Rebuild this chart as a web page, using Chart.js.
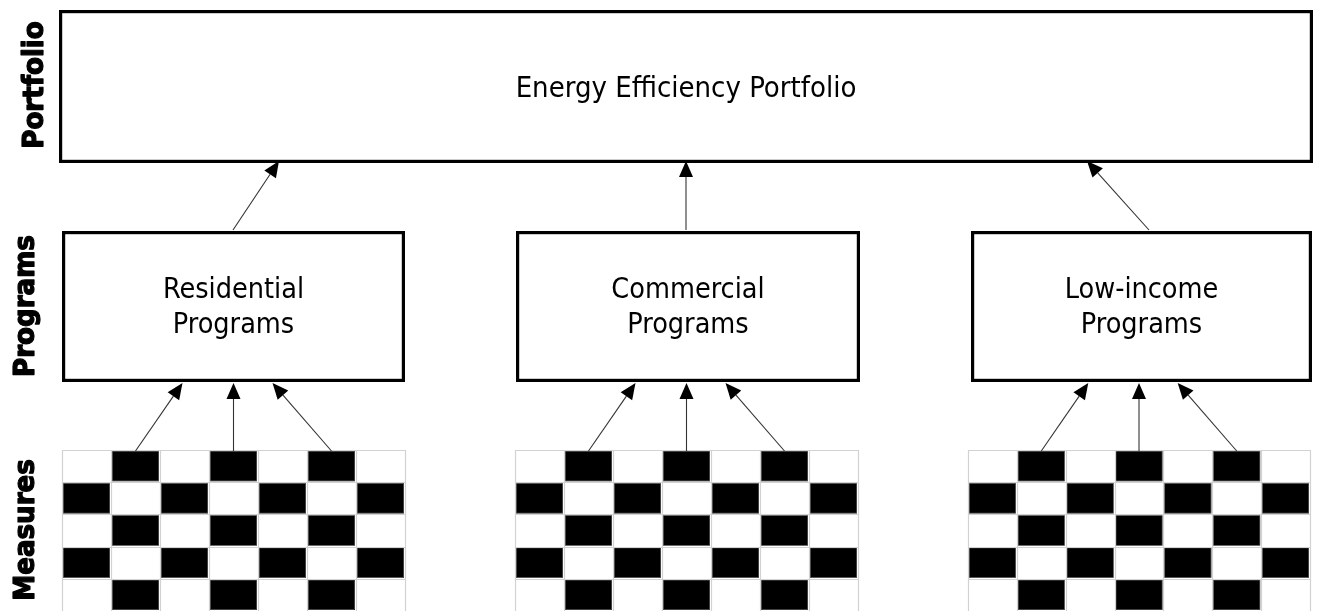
<!DOCTYPE html>
<html>
<head>
<meta charset="utf-8">
<script src="https://cdn.jsdelivr.net/npm/chart.js@4.4.1/dist/chart.umd.min.js"></script>
<style>
  html, body { margin: 0; padding: 0; background: #ffffff; }
  #wrap { width: 1319px; height: 611px; }
</style>
</head>
<body>
<div id="wrap"><canvas id="c" width="1319" height="611"></canvas></div>
<script>
// ---------------- DATA ----------------
const tierLabels = ['Portfolio', 'Programs', 'Measures'];
const portfolioLabel = 'Energy Efficiency Portfolio';
const programLines = [
  ['Residential', 'Programs'],
  ['Commercial', 'Programs'],
  ['Low-income', 'Programs']
];
// measure cells per program: 1 = filled (black) cell, 0 = empty cell
const measureCells = [
  [0, 1, 0, 1, 0, 1, 0],
  [1, 0, 1, 0, 1, 0, 1],
  [0, 1, 0, 1, 0, 1, 0],
  [1, 0, 1, 0, 1, 0, 1],
  [0, 1, 0, 1, 0, 1, 0]
];
// columns of the top measure row that feed each program (arrow sources)
const measureLinkCols = [1, 3, 5];

// ---------------- LAYOUT (diagram geometry in scale units) ----------------
const layout = {
  portfolioBox: { x0: 59, y0: 10, x1: 1313, y1: 163 },
  programBoxes: [
    { x0: 62, y0: 231, x1: 405, y1: 382 },
    { x0: 516, y0: 231, x1: 860, y1: 382 },
    { x0: 971, y0: 231, x1: 1312, y1: 382 }
  ],
  grids: [
    { x0: 62, x1: 405 },
    { x0: 515, x1: 858 },
    { x0: 968, x1: 1310 }
  ],
  gridTop: 450, rowH: 32.2,
  upStartX: [233, 686, 1149],   // program -> portfolio arrow start x
  upTipX: [279, 686, 1087],     // tip x on portfolio box
  measureTipShift: [47, 0, -59], // tip shift from source x
  sideLabels: [
    { x: 43, y: 85 },
    { x: 34, y: 306 },
    { x: 34, y: 530 }
  ]
};

const FONT = '"DejaVu Sans Condensed", "DejaVu Sans", sans-serif';

const diagramPlugin = {
  id: 'diagram',
  beforeDraw(chart) {
    const ctx = chart.ctx;
    ctx.save();
    ctx.fillStyle = '#ffffff';
    ctx.fillRect(0, 0, chart.width, chart.height);
    ctx.restore();
  },
  afterDatasetsDraw(chart) {
    const ctx = chart.ctx;
    const X = v => chart.scales.x.getPixelForValue(v);
    const Y = v => chart.scales.y.getPixelForValue(v);

    function box(b, lw) {
      ctx.save();
      ctx.lineWidth = lw;
      ctx.strokeStyle = '#000000';
      const h = lw / 2;
      ctx.strokeRect(X(b.x0) + h, Y(b.y0) + h, X(b.x1) - X(b.x0) - lw, Y(b.y1) - Y(b.y0) - lw);
      ctx.restore();
    }

    function arrow(x0, y0, x1, y1) {
      const px0 = X(x0), py0 = Y(y0), px1 = X(x1), py1 = Y(y1);
      const ang = Math.atan2(py1 - py0, px1 - px0);
      const len = 16, hw = 7;
      const bx = px1 - len * Math.cos(ang), by = py1 - len * Math.sin(ang);
      ctx.save();
      ctx.strokeStyle = '#333333';
      ctx.lineWidth = 1.1;
      ctx.beginPath();
      ctx.moveTo(px0, py0);
      ctx.lineTo(bx, by);
      ctx.stroke();
      ctx.fillStyle = '#000000';
      ctx.beginPath();
      ctx.moveTo(px1, py1);
      ctx.lineTo(bx + hw * Math.sin(ang), by - hw * Math.cos(ang));
      ctx.lineTo(bx - hw * Math.sin(ang), by + hw * Math.cos(ang));
      ctx.closePath();
      ctx.fill();
      ctx.restore();
    }

    // Portfolio box
    box(layout.portfolioBox, 3.2);
    ctx.save();
    ctx.fillStyle = '#000000';
    ctx.font = '29px ' + FONT;
    ctx.textAlign = 'center';
    ctx.textBaseline = 'alphabetic';
    const pb = layout.portfolioBox;
    ctx.fillText(portfolioLabel, X((pb.x0 + pb.x1) / 2), Y(97));
    ctx.restore();

    // Programs
    programLines.forEach((lines, i) => {
      const b = layout.programBoxes[i];
      box(b, 3.2);
      const cx = (b.x0 + b.x1) / 2;
      ctx.save();
      ctx.fillStyle = '#000000';
      ctx.font = '28.5px ' + FONT;
      ctx.textAlign = 'center';
      ctx.textBaseline = 'alphabetic';
      ctx.fillText(lines[0], X(cx), Y(298));
      ctx.fillText(lines[1], X(cx), Y(333));
      ctx.restore();

      // arrow program -> portfolio
      arrow(layout.upStartX[i], b.y0 - 1, layout.upTipX[i], pb.y1 - 2);

      // measures grid
      const g = layout.grids[i];
      const cw = (g.x1 - g.x0) / measureCells[0].length;
      const rows = measureCells.length;
      const gy0 = layout.gridTop;
      ctx.save();
      ctx.fillStyle = '#ffffff';
      ctx.fillRect(X(g.x0), Y(gy0), X(g.x1) - X(g.x0), Y(gy0 + rows * layout.rowH) - Y(gy0));
      measureCells.forEach((row, r) => {
        row.forEach((v, c) => {
          if (!v) return;
          const x0 = X(g.x0 + c * cw), x1 = X(g.x0 + (c + 1) * cw);
          const y0 = Y(gy0 + r * layout.rowH), y1 = Y(gy0 + (r + 1) * layout.rowH);
          ctx.fillStyle = '#000000';
          ctx.fillRect(x0 + 1, y0 + 1, x1 - x0 - 2, y1 - y0 - 2);
          ctx.strokeStyle = '#6e6e6e';
          ctx.lineWidth = 0.6;
          ctx.strokeRect(x0 + 1.3, y0 + 1.3, x1 - x0 - 2.6, y1 - y0 - 2.6);
        });
      });
      // light grid lines
      ctx.strokeStyle = '#d2d2d2';
      ctx.lineWidth = 1.2;
      for (let c = 0; c <= measureCells[0].length; c++) {
        const x = Math.round(X(g.x0 + c * cw)) + 0.5;
        ctx.beginPath();
        ctx.moveTo(x, Y(gy0));
        ctx.lineTo(x, Y(gy0 + rows * layout.rowH));
        ctx.stroke();
      }
      for (let r = 0; r <= rows; r++) {
        const y = Math.round(Y(gy0 + r * layout.rowH)) + 0.5;
        ctx.beginPath();
        ctx.moveTo(X(g.x0), y);
        ctx.lineTo(X(g.x1), y);
        ctx.stroke();
      }
      ctx.restore();

      // arrows measures -> program
      measureLinkCols.forEach((col, k) => {
        const sx = g.x0 + (col + 0.5) * cw;
        arrow(sx, gy0 + 1, sx + layout.measureTipShift[k], b.y1 + 1);
      });
    });

    // Side tier labels (heavy bold)
    tierLabels.forEach((t, i) => {
      const p = layout.sideLabels[i];
      ctx.save();
      ctx.translate(X(p.x), Y(p.y));
      ctx.rotate(-Math.PI / 2);
      ctx.fillStyle = '#000000';
      ctx.strokeStyle = '#000000';
      ctx.lineWidth = 1.2;
      ctx.lineJoin = 'round';
      ctx.font = 'bold 29px ' + FONT;
      ctx.textAlign = 'center';
      ctx.textBaseline = 'alphabetic';
      ctx.fillText(t, 0, 0);
      ctx.strokeText(t, 0, 0);
      ctx.restore();
    });
  }
};

new Chart(document.getElementById('c'), {
  type: 'scatter',
  data: { datasets: [] },
  options: {
    responsive: false,
    animation: false,
    devicePixelRatio: 1,
    layout: { padding: 0 },
    plugins: { legend: { display: false }, tooltip: { enabled: false } },
    scales: {
      x: { type: 'linear', min: 0, max: 1319, display: false },
      y: { type: 'linear', min: 0, max: 611, reverse: true, display: false }
    }
  },
  plugins: [diagramPlugin]
});
</script>
</body>
</html>
